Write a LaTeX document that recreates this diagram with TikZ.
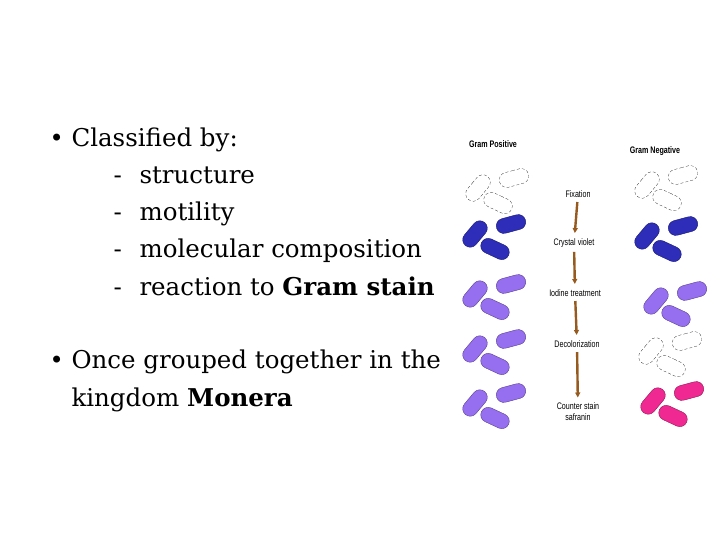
\documentclass[tikz,border=0pt]{standalone}
\usepackage{fontspec}
\setmainfont{DejaVu Serif}
\setsansfont{Liberation Sans}
\usetikzlibrary{positioning,shapes.misc,arrows.meta,calc}
\definecolor{cvblue}{RGB}{45,45,185}
\definecolor{iodine}{RGB}{150,110,240}
\definecolor{safra}{RGB}{240,40,145}
\definecolor{brownarr}{RGB}{150,90,30}
\tikzset{
  rod/.style={rounded rectangle,draw=#1!60!black,fill=#1,minimum width=30pt,minimum height=15pt,inner sep=0pt,thin},
  blank/.style={rounded rectangle,draw=black,densely dashed,very thin,fill=white,minimum width=30pt,minimum height=15pt,inner sep=0pt},
  stain/.style={font=\sffamily\fontsize{9.5}{11}\selectfont,xscale=0.75,align=center},
  head/.style={font=\sffamily\bfseries\fontsize{9.5}{11}\selectfont,xscale=0.75},
  txt/.style={anchor=base west,font=\fontsize{24.5}{28}\selectfont},
  dot/.style={anchor=base west,font=\fontsize{24}{24}\selectfont},
  stage/.style={-{Triangle[length=5pt,width=5pt]},brownarr,line width=2.4pt,shorten >=2pt,shorten <=1pt}
}
% three rods around (#1,#2) in style #3
\newcommand{\cluster}[3]{%
  \node[#3,rotate=50] at (#1,#2) {};
  \node[#3,rotate=15] at ($(#1,#2)+(36,-10)$) {};
  \node[#3,rotate=-25] at ($(#1,#2)+(20,15)$) {};}
\begin{document}
\begin{tikzpicture}[x=1pt,y=-1pt]
\useasboundingbox (0,0) rectangle (720,540);
\node[dot] (b1) at (46,147) {\textbullet};
\node[txt] (cls) at (68,147) {Classified by:};
\foreach \t [count=\i] in {structure,motility,molecular composition,{reaction to \textbf{Gram stain}}}{
  \node[txt] (d\i) at (110,147+37*\i) {-};
  \node[txt] (it\i) at (136,147+37*\i) {\t};}
\node[dot] (b2) at (46,368) {\textbullet};
\node[txt] (once) at (68,368) {Once grouped together in the};
\node[txt] (mon) at (68,406) {kingdom \textbf{Monera}};
% headers
\node[head] (gp) at (493,144) {Gram Positive};
\node[head] (gn) at (655,151) {Gram Negative};
% steps
\node[stain] (fix) at (578,194) {Fixation};
\node[stain] (cv) at (574,243) {Crystal violet};
\node[stain] (io) at (575,293) {Iodine treatment};
\node[stain] (dec) at (577,344) {Decolorization};
\node[stain] (cs) at (578,412) {Counter stain\\safranin};
\draw[stage] (fix) -- (cv);
\draw[stage] (cv) -- (io);
\draw[stage] (io) -- (dec);
\draw[stage] (dec) -- (cs);
% gram positive
\cluster{478}{188}{blank}
\cluster{475}{234}{rod=cvblue}
\cluster{475}{294}{rod=iodine}
\cluster{475}{349}{rod=iodine}
\cluster{475}{403}{rod=iodine}
% gram negative
\cluster{647}{185}{blank}
\cluster{647}{236}{rod=cvblue}
\cluster{656}{301}{rod=iodine}
\cluster{651}{351}{blank}
\cluster{653}{401}{rod=safra}
\end{tikzpicture}
\end{document}
